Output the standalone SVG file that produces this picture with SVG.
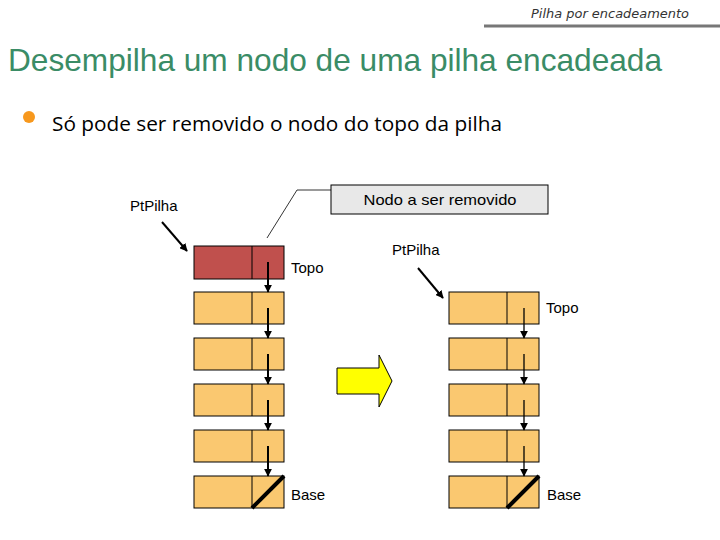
<svg xmlns="http://www.w3.org/2000/svg" width="720" height="540" viewBox="0 0 720 540">
<defs>
<style>
.t{font-family:"Liberation Sans",Arial,sans-serif;font-size:15px;fill:#000}
.n{fill:#fac870;stroke:#000;stroke-width:1}
.r{fill:#c0504d;stroke:#000;stroke-width:1}
.p{stroke:#000;stroke-width:2;fill:none}
.p2{stroke:#000;stroke-width:1.3;fill:none}
.nil{stroke:#000;stroke-width:4}
</style>
<marker id="ah" viewBox="0 0 10 10" refX="9" refY="5" markerWidth="4" markerHeight="4" orient="auto" markerUnits="strokeWidth"><path d="M0,0L10,5L0,10z" fill="#000"/></marker>
<marker id="ah2" viewBox="0 0 10 10" refX="9" refY="5" markerWidth="6" markerHeight="6" orient="auto" markerUnits="strokeWidth"><path d="M0,0L10,5L0,10z" fill="#000"/></marker>
</defs>
<rect width="720" height="540" fill="#fff"/>
<g id="header">
<text x="689" y="18" text-anchor="end" font-family="DejaVu Sans,sans-serif" font-style="italic" font-size="12" fill="#333" textLength="158" lengthAdjust="spacingAndGlyphs">Pilha por encadeamento</text>
<line x1="484" y1="26" x2="720" y2="26" stroke="#777" stroke-width="3"/>
</g>
<g id="title">
<text x="8" y="71" font-family="Liberation Sans,Arial,sans-serif" font-size="32" fill="#3a8c66" textLength="654" lengthAdjust="spacingAndGlyphs">Desempilha um nodo de uma pilha encadeada</text>
</g>
<g id="bullet">
<circle cx="29" cy="117" r="6" fill="#f7981d"/>
<text x="52" y="131" font-family="Open Sans,sans-serif" font-size="20" fill="#000" textLength="450" lengthAdjust="spacingAndGlyphs">Só pode ser removido o nodo do topo da pilha</text>
</g>
<g id="callout">
<rect x="331" y="185" width="217" height="29" fill="#e8e8e8" stroke="#000" stroke-width="1"/>
<text class="t" x="440" y="205" text-anchor="middle" textLength="153" lengthAdjust="spacingAndGlyphs">Nodo a ser removido</text>
<polyline points="331,190 297,190 267,238" fill="none" stroke="#000" stroke-width="0.8"/>
</g>
<g id="left-stack">
<g id="L0"><rect class="r" x="194" y="246" width="90" height="33"/><line x1="252" y1="246" x2="252" y2="279" stroke="#000"/></g>
<g id="L1"><rect class="n" x="194" y="292" width="90" height="32"/><line x1="252" y1="292" x2="252" y2="324" stroke="#000"/></g>
<g id="L2"><rect class="n" x="194" y="338" width="90" height="32"/><line x1="252" y1="338" x2="252" y2="370" stroke="#000"/></g>
<g id="L3"><rect class="n" x="194" y="384" width="90" height="32"/><line x1="252" y1="384" x2="252" y2="416" stroke="#000"/></g>
<g id="L4"><rect class="n" x="194" y="430" width="90" height="32"/><line x1="252" y1="430" x2="252" y2="462" stroke="#000"/></g>
<g id="L5"><rect class="n" x="194" y="476" width="90" height="32"/><line x1="252" y1="476" x2="252" y2="508" stroke="#000"/></g>
</g>
<g id="right-stack">
<g id="R1"><rect class="n" x="449" y="292" width="90" height="32"/><line x1="507" y1="292" x2="507" y2="324" stroke="#000"/></g>
<g id="R2"><rect class="n" x="449" y="338" width="90" height="32"/><line x1="507" y1="338" x2="507" y2="370" stroke="#000"/></g>
<g id="R3"><rect class="n" x="449" y="384" width="90" height="32"/><line x1="507" y1="384" x2="507" y2="416" stroke="#000"/></g>
<g id="R4"><rect class="n" x="449" y="430" width="90" height="32"/><line x1="507" y1="430" x2="507" y2="462" stroke="#000"/></g>
<g id="R5"><rect class="n" x="449" y="476" width="90" height="32"/><line x1="507" y1="476" x2="507" y2="508" stroke="#000"/></g>
</g>
<g id="labels">
<text class="t" x="130" y="211">PtPilha</text>
<text class="t" x="291" y="273">Topo</text>
<text class="t" x="291" y="500">Base</text>
<text class="t" x="392" y="255">PtPilha</text>
<text class="t" x="546" y="313">Topo</text>
<text class="t" x="547" y="500">Base</text>
</g>
<g id="shift-arrow">
<polygon points="337,368 379,368 379,355 392,381 379,407 379,394 337,394" fill="#ffff00" stroke="#000" stroke-width="1"/>
</g>
<g id="connectors">
<line class="p" x1="162" y1="222" x2="187" y2="251" marker-end="url(#ah)"/>
<line class="p" x1="418" y1="268" x2="443" y2="298" marker-end="url(#ah)"/>
<line class="p" x1="268" y1="262" x2="268" y2="292" marker-end="url(#ah)"/>
<line class="p" x1="268" y1="308" x2="268" y2="338" marker-end="url(#ah)"/>
<line class="p" x1="268" y1="354" x2="268" y2="384" marker-end="url(#ah)"/>
<line class="p" x1="268" y1="400" x2="268" y2="430" marker-end="url(#ah)"/>
<line class="p" x1="268" y1="446" x2="268" y2="476" marker-end="url(#ah)"/>
<line class="p2" x1="524" y1="308" x2="524" y2="338" marker-end="url(#ah2)"/>
<line class="p2" x1="524" y1="354" x2="524" y2="384" marker-end="url(#ah2)"/>
<line class="p2" x1="524" y1="400" x2="524" y2="430" marker-end="url(#ah2)"/>
<line class="p2" x1="524" y1="446" x2="524" y2="476" marker-end="url(#ah2)"/>
<line class="nil" x1="252" y1="508" x2="284" y2="476"/>
<line class="nil" x1="507" y1="508" x2="539" y2="476"/>
</g>
</svg>
